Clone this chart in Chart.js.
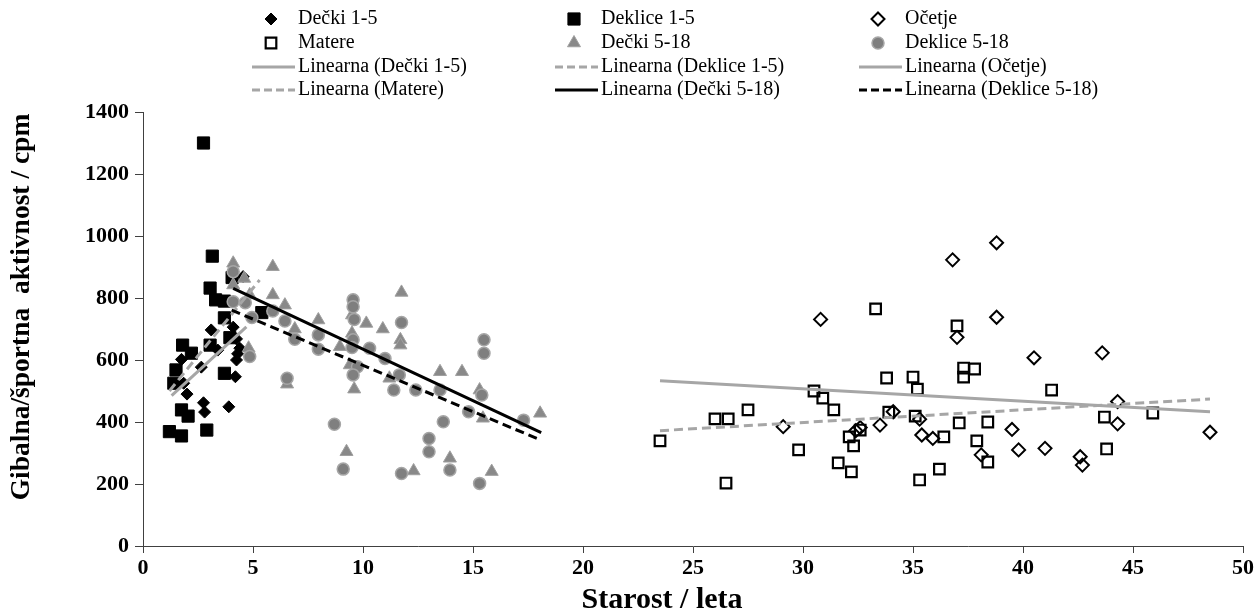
<!DOCTYPE html>
<html>
<head>
<meta charset="utf-8">
<script src="https://cdn.jsdelivr.net/npm/chart.js@4.4.1/dist/chart.umd.min.js"></script>
<style>
  html, body { margin: 0; padding: 0; background: #fff; }
  #wrap { width: 1258px; height: 613px; }
</style>
</head>
<body>
<div id="wrap"><canvas id="graf"></canvas></div>
<script>
// ---------------- podatki (starost, cpm) ----------------
const decki15 = [[3.1,697],[4.1,706],[3.4,632],[4.25,668],[4.4,638],[1.75,602],[2.65,577],[4.25,600],
  [4.2,546],[1.85,525],[2.0,490],[2.75,462],[2.8,432],[3.9,449],[4.55,869],[4.3,620]]
const deklice15 = [[2.75,1300],[3.15,935],[3.05,832],[3.3,794],[3.7,790],[3.7,736],[4.05,866],[3.95,672],
  [3.05,648],[5.4,753],[1.8,648],[2.2,622],[1.5,568],[1.4,525],[3.7,557],[1.75,439],[2.05,419],
  [1.2,369],[1.75,355],[2.9,374]]
const ocetje = [[29.1,385],[30.8,731],[32.4,372],[32.6,382],[33.5,390],[34.1,433],[35.3,409],[35.4,358],
  [35.9,347],[36.8,923],[37.0,673],[38.8,978],[38.8,738],[38.1,294],[39.5,376],[39.8,310],[40.5,607],
  [41.0,315],[42.6,288],[42.7,261],[43.6,623],[44.3,466],[44.3,394],[48.5,367]]
const matere = [[23.5,339],[26.0,410],[26.6,410],[27.5,439],[26.5,203],[29.8,310],[30.5,500],[30.9,477],
  [31.4,439],[32.1,352],[32.3,323],[32.6,374],[31.6,268],[32.2,239],[33.3,765],[33.8,542],[35.0,545],
  [35.2,506],[33.9,432],[35.1,419],[36.4,352],[36.2,248],[35.3,213],[37.0,710],[37.1,397],[37.3,574],
  [37.3,545],[37.8,571],[38.4,400],[37.9,339],[38.4,271],[41.3,503],[43.7,416],[43.8,313],[45.9,429]]
const decki518 = [[4.1,912],[4.1,842],[4.6,863],[4.85,810],[4.8,638],[5.9,901],[5.9,810],[6.45,777],
  [6.9,700],[6.55,522],[7.97,729],[8.95,643],[9.5,745],[9.5,686],[9.4,584],[9.6,506],[9.25,304],
  [10.15,718],[10.9,700],[11.75,818],[11.7,665],[11.7,648],[11.2,541],[12.3,242],[13.5,562],[14.5,562],
  [13.95,283],[15.3,503],[15.45,412],[15.85,240],[18.05,428]]
const deklice518 = [[4.1,885],[4.1,788],[4.65,785],[4.95,737],[4.85,611],[5.9,758],[6.45,726],[6.9,667],
  [6.55,541],[7.97,681],[7.97,635],[8.7,393],[9.1,248],[9.55,794],[9.55,772],[9.6,731],[9.55,665],
  [9.5,640],[9.75,578],[9.55,552],[10.3,638],[11.0,605],[11.75,721],[11.65,552],[11.4,503],[12.4,503],
  [11.75,234],[13.5,503],[13.65,401],[13.0,347],[13.0,304],[13.95,245],[14.8,433],[15.5,665],
  [15.5,622],[15.4,487],[15.3,202],[17.3,406]]

// linearni trendi (krajišči, odčitano s slike)
const trendDecki15 = [[1.3,485],[4.7,707]]
const trendDeklice15 = [[1.2,500],[5.3,858]]
const trendOcetje = [[23.5,533],[48.5,433]]
const trendMatere = [[23.5,372],[48.5,474]]
const trendDecki518 = [[4.1,831],[18.1,366]]
const trendDeklice518 = [[4.03,761],[17.9,347]]

const xTicks = [0,5,10,15,20,25,30,35,40,45,50]
const yTicks = [0,200,400,600,800,1000,1200,1400]
const xNaslov = "Starost / leta"
const yNaslov = "Gibalna/športna  aktivnost / cpm"

const toXY = arr => arr.map(p => ({x: p[0], y: p[1]}))
const SIVA = "#7f7f7f"
const SVETLA = "#a6a6a6"

function tocke(label, data, style, r, bg, border, bw) {
  return {type: "scatter", label: label, data: toXY(data), pointStyle: style, pointRadius: r,
    pointHoverRadius: r, backgroundColor: bg, borderColor: border, pointBorderWidth: bw, borderWidth: bw,
    showLine: false}
}
function trend(label, data, color, dash) {
  return {type: "line", label: label, data: toXY(data), borderColor: color, backgroundColor: color,
    borderWidth: 3, borderDash: dash, pointRadius: 0, fill: false, tension: 0}
}

const datasets = [
  tocke("Dečki 1-5", decki15, "rectRot", 6, "#000", "#000", 1),
  tocke("Deklice 1-5", deklice15, "rect", 8.6, "#000", "#000", 1),
  tocke("Očetje", ocetje, "rectRot", 6.5, "rgba(255,255,255,0)", "#000", 2),
  tocke("Matere", matere, "rect", 7.5, "rgba(255,255,255,0)", "#000", 2.2),
  tocke("Dečki 5-18", decki518, "triangle", 7.5, "#898989", "#a0a0a0", 1),
  tocke("Deklice 5-18", deklice518, "circle", 6, SIVA, SVETLA, 1.5),
  trend("Linearna (Dečki 1-5)", trendDecki15, SVETLA, []),
  trend("Linearna (Deklice 1-5)", trendDeklice15, SVETLA, [9,5]),
  trend("Linearna (Očetje)", trendOcetje, SVETLA, []),
  trend("Linearna (Matere)", trendMatere, SVETLA, [9,5]),
  trend("Linearna (Dečki 5-18)", trendDecki518, "#000", []),
  trend("Linearna (Deklice 5-18)", trendDeklice518, "#000", [9,5])
]
// Excel riše kasnejše serije čez prejšnje
datasets.forEach((d, i) => { d.order = datasets.length - i })

// ---------------- legenda v treh stolpcih + naslova osi ----------------
function marker(ctx, ds, x, y) {
  const r = ds.pointRadius
  ctx.save()
  ctx.beginPath()
  if (ds.pointStyle === "rect") {
    const s = Math.SQRT1_2 * r
    ctx.rect(x - s, y - s, 2 * s, 2 * s)
  } else if (ds.pointStyle === "rectRot") {
    ctx.moveTo(x, y - r); ctx.lineTo(x + r, y); ctx.lineTo(x, y + r); ctx.lineTo(x - r, y); ctx.closePath()
  } else if (ds.pointStyle === "triangle") {
    ctx.moveTo(x, y - r)
    ctx.lineTo(x + Math.sin(Math.PI * 2 / 3) * r, y - Math.cos(Math.PI * 2 / 3) * r)
    ctx.lineTo(x + Math.sin(Math.PI * 4 / 3) * r, y - Math.cos(Math.PI * 4 / 3) * r)
    ctx.closePath()
  } else {
    ctx.arc(x, y, r, 0, Math.PI * 2)
  }
  ctx.fillStyle = ds.backgroundColor
  ctx.fill()
  ctx.lineWidth = ds.pointBorderWidth
  ctx.strokeStyle = ds.borderColor
  ctx.stroke()
  ctx.restore()
}

const legendaPlugin = {
  id: "legenda3",
  afterDraw(chart) {
    const ctx = chart.ctx
    const stolpci = [252, 555, 859]
    const vrstice = [19, 43, 67, 90]
    chart.data.datasets.forEach((ds, i) => {
      const x0 = stolpci[i % 3]
      const y = vrstice[Math.floor(i / 3)]
      if (ds.type === "line") {
        ctx.save()
        ctx.strokeStyle = ds.borderColor
        ctx.lineWidth = 3
        ctx.setLineDash(ds.borderDash.length ? [8, 4] : [])
        ctx.beginPath(); ctx.moveTo(x0, y); ctx.lineTo(x0 + 43, y); ctx.stroke()
        ctx.restore()
      } else {
        marker(ctx, ds, x0 + 19, y)
      }
      ctx.save()
      ctx.fillStyle = "#000"
      ctx.font = "20px 'Liberation Serif'"
      ctx.textBaseline = "middle"
      ctx.fillText(ds.label, x0 + 46, y)
      ctx.restore()
    })

    // naslova osi (v izvirniku nista čisto na sredini)
    ctx.save()
    ctx.fillStyle = "#000"
    ctx.textAlign = "center"
    ctx.textBaseline = "middle"
    ctx.font = "bold 30px 'Liberation Serif'"
    ctx.fillText(xNaslov, 662, 600)
    ctx.translate(22, 307)
    ctx.rotate(-Math.PI / 2)
    ctx.font = "bold 27.5px 'Liberation Serif'"
    ctx.fillText(yNaslov, 0, 0)
    ctx.restore()
  }
}

const pisava = {family: "'Liberation Serif'", weight: "bold", size: 22}

new Chart(document.getElementById("graf"), {
  type: "scatter",
  data: {datasets: datasets},
  plugins: [legendaPlugin],
  options: {
    responsive: true,
    maintainAspectRatio: false,
    animation: false,
    layout: {padding: {left: 0, top: 112, right: 15, bottom: 0}},
    plugins: {legend: {display: false}, tooltip: {enabled: false}},
    scales: {
      x: {
        type: "linear", min: 0, max: 50,
        afterBuildTicks: s => { s.ticks = xTicks.map(v => ({value: v})) },
        afterFit: s => { s.height = 67 },
        grid: {drawOnChartArea: false, drawTicks: true, tickLength: 7, color: "#404040"},
        border: {display: true, color: "#404040", width: 1},
        ticks: {color: "#000", font: pisava, padding: 2, maxRotation: 0, callback: v => String(v)}
      },
      y: {
        type: "linear", min: 0, max: 1400,
        afterBuildTicks: s => { s.ticks = yTicks.map(v => ({value: v})) },
        afterFit: s => { s.width = 143 },
        grid: {drawOnChartArea: false, drawTicks: true, tickLength: 8, color: "#404040"},
        border: {display: true, color: "#404040", width: 1},
        ticks: {color: "#000", font: pisava, padding: 6, callback: v => String(v)}
      }
    }
  }
})
</script>
</body>
</html>
